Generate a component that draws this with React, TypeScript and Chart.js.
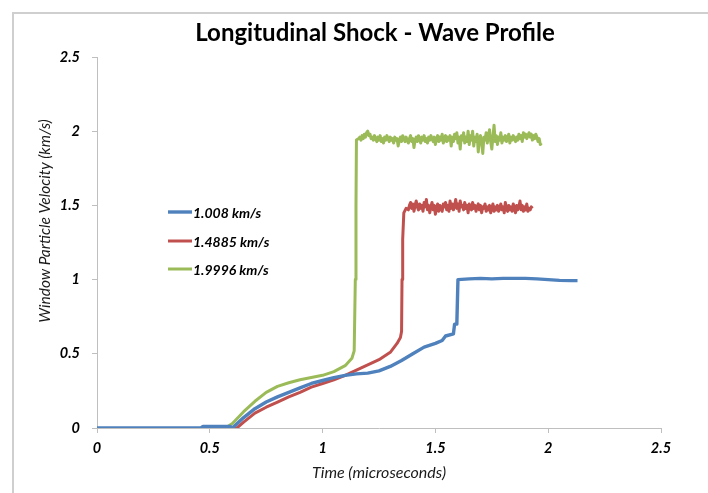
import React, { useEffect, useRef } from "react";
import { Chart, registerables } from "chart.js";

Chart.register(...registerables);

const chartTitle = "Longitudinal Shock - Wave Profile";
const xAxisTitle = "Time (microseconds)";
const yAxisTitle = "Window Particle Velocity (km/s)";
const seriesNames = ["1.008 km/s", "1.4885 km/s", "1.9996 km/s"];
const seriesColors = ["#4F81BD", "#C0504D", "#9BBB59"];
const xTicks = [0, 0.5, 1, 1.5, 2, 2.5];
const yTicks = [0, 0.5, 1, 1.5, 2, 2.5];

// 1.008 km/s
const blueTime = [
  0, 0.46, 0.47, 0.59, 0.6, 0.65, 0.7, 0.75, 0.8, 0.85, 0.9, 0.95, 1.0, 1.05, 1.1,
  1.15, 1.2, 1.25, 1.3, 1.35, 1.4, 1.45, 1.5, 1.53, 1.545, 1.58, 1.585, 1.595,
  1.6, 1.65, 1.7, 1.75, 1.8, 1.85, 1.9, 1.95, 2.0, 2.05, 2.1, 2.13,
];
const blueVel = [
  0, 0, 0.01, 0.01, 0.0, 0.07, 0.13, 0.175, 0.21, 0.24, 0.27, 0.3, 0.32, 0.34, 0.355,
  0.365, 0.37, 0.385, 0.415, 0.455, 0.5, 0.545, 0.57, 0.59, 0.62, 0.635, 0.7, 0.7,
  1.0, 1.005, 1.008, 1.005, 1.008, 1.008, 1.008, 1.005, 1.0, 0.995, 0.993, 0.993,
];

// 1.4885 km/s - rise
const redRiseTime = [
  0.61, 0.62, 0.65, 0.7, 0.75, 0.8, 0.85, 0.9, 0.95, 1.0, 1.05, 1.1, 1.15, 1.2, 1.25,
  1.3, 1.33, 1.345, 1.35, 1.352, 1.355, 1.36, 1.37,
];
const redRiseVel = [
  0, 0.0, 0.04, 0.1, 0.14, 0.175, 0.21, 0.24, 0.275, 0.3, 0.325, 0.355, 0.39, 0.425,
  0.46, 0.51, 0.57, 0.61, 0.65, 1.0, 1.27, 1.45, 1.48,
];
// 1.4885 km/s - plateau, sampled every 0.005 µs from 1.38
const redPlateauStart = 1.38;
const redPlateauStep = 0.005;
const redPlateauVel = [
  1.47, 1.5, 1.52, 1.48, 1.51, 1.46, 1.5, 1.53, 1.49, 1.47,
  1.51, 1.48, 1.5, 1.46, 1.52, 1.49, 1.54, 1.47, 1.5, 1.45,
  1.49, 1.52, 1.47, 1.5, 1.44, 1.48, 1.51, 1.46, 1.5, 1.48,
  1.46, 1.51, 1.49, 1.52, 1.47, 1.5, 1.46, 1.53, 1.48, 1.51,
  1.47, 1.5, 1.54, 1.48, 1.51, 1.46, 1.53, 1.49, 1.5, 1.47,
  1.52, 1.48, 1.5, 1.45, 1.51, 1.49, 1.47, 1.52, 1.48, 1.5,
  1.46, 1.49, 1.51, 1.47, 1.5, 1.45, 1.49, 1.48, 1.51, 1.46,
  1.49, 1.47, 1.5, 1.45, 1.48, 1.51, 1.46, 1.49, 1.47, 1.5,
  1.46, 1.48, 1.51, 1.47, 1.49, 1.45, 1.52, 1.48, 1.46, 1.5,
  1.47, 1.49, 1.46, 1.51, 1.48, 1.45, 1.5, 1.47, 1.49, 1.53,
  1.47, 1.5, 1.46, 1.49, 1.47, 1.51, 1.46, 1.48, 1.47, 1.49,
  1.48,
];

// 1.9996 km/s - rise
const greenRiseTime = [
  0.57, 0.6, 0.65, 0.7, 0.75, 0.8, 0.85, 0.9, 0.95, 1.0, 1.05, 1.1, 1.13, 1.14,
  1.145, 1.148, 1.15,
];
const greenRiseVel = [
  0, 0.03, 0.11, 0.18, 0.24, 0.28, 0.305, 0.325, 0.34, 0.355, 0.38, 0.42, 0.47, 0.52,
  1.0, 1.5, 1.94,
];
// 1.9996 km/s - plateau, sampled every 0.005 µs from 1.16
const greenPlateauStart = 1.16;
const greenPlateauStep = 0.005;
const greenPlateauVel = [
  1.95, 1.96, 1.94, 1.97, 1.95, 1.98, 1.96, 1.99, 2.0, 1.97,
  1.98, 1.95, 1.96, 1.94, 1.97, 1.95, 1.93, 1.96, 1.94, 1.97,
  1.93, 1.95, 1.92, 1.96, 1.94, 1.97, 1.95, 1.93, 1.96, 1.94,
  1.95, 1.92, 1.96, 1.94, 1.95, 1.9, 1.94, 1.96, 1.93, 1.97,
  1.95, 1.93, 1.96, 1.94, 1.92, 1.95, 1.97, 1.93, 1.95, 1.89,
  1.94, 1.96, 1.93, 1.97, 1.95, 1.92, 1.96, 1.94, 1.97, 1.93,
  1.95, 1.92, 1.96, 1.94, 1.97, 1.95, 1.93, 1.96, 1.91, 1.95,
  1.97, 1.93, 1.96, 1.94, 1.98, 1.92, 1.95, 1.97, 1.93, 1.96,
  1.94, 1.97, 1.9, 1.96, 1.93, 1.98, 1.95, 1.99, 1.92, 1.96,
  1.88, 1.97, 1.94, 1.99, 1.92, 1.96, 1.93, 2.0, 1.91, 1.97,
  1.94, 2.0, 1.9, 1.96, 1.93, 1.98, 1.86, 1.95, 1.97, 1.92,
  1.85, 1.96, 1.94, 1.99, 1.92, 1.97, 2.01, 1.93, 1.88, 1.96,
  2.04, 1.93, 1.97, 1.91, 1.96, 1.94, 1.99, 1.92, 1.96, 1.94,
  1.97, 1.93, 1.95, 1.98, 1.92, 1.96, 1.94, 1.97, 1.95, 1.93,
  1.96, 1.94, 1.98, 1.95, 1.97, 1.93, 1.99, 1.96, 1.98, 1.95,
  1.97, 1.99, 1.96, 1.98, 1.94, 1.97, 1.95, 1.98, 1.96, 1.93,
  1.95, 1.91, 1.92,
];

const lineWidths = [3.4, 3, 3];
const FONT = "Lato, 'Open Sans', sans-serif";

function pairs(t: number[], v: number[]) {
  return t.map((x, i) => ({ x, y: v[i] }));
}
function plateau(start: number, step: number, v: number[]) {
  return v.map((y, i) => ({ x: +(start + i * step).toFixed(4), y }));
}

const decorPlugin = {
  id: "decor",
  afterDraw(chart: any) {
    const ctx = chart.ctx as CanvasRenderingContext2D;
    const area = chart.chartArea;
    ctx.save();
    // outer frame
    ctx.strokeStyle = "#cfcfcf";
    ctx.lineWidth = 2;
    ctx.beginPath();
    ctx.moveTo(13, 493);
    ctx.lineTo(13, 13);
    ctx.lineTo(708, 13);
    ctx.stroke();
    // title
    ctx.fillStyle = "#000";
    ctx.font = `bold 24px ${FONT}`;
    ctx.textAlign = "center";
    ctx.textBaseline = "middle";
    ctx.fillText(chartTitle, 375, 33);
    // y axis title
    ctx.save();
    ctx.translate(45, 221);
    ctx.rotate(-Math.PI / 2);
    ctx.font = `italic 15.5px ${FONT}`;
    ctx.fillStyle = "#1a1a1a";
    ctx.fillText(yAxisTitle, 0, 0);
    ctx.restore();
    // legend
    const legX = area.left + 71;
    const rows = [212, 241, 269];
    ctx.font = `bold italic 14px ${FONT}`;
    ctx.textAlign = "left";
    seriesNames.forEach((name, i) => {
      ctx.strokeStyle = seriesColors[i];
      ctx.lineWidth = lineWidths[i];
      ctx.beginPath();
      ctx.moveTo(legX, rows[i]);
      ctx.lineTo(legX + 24, rows[i]);
      ctx.stroke();
      ctx.fillStyle = "#000";
      ctx.fillText(name, legX + 25, rows[i] + 1);
    });
    ctx.restore();
  },
};

export default function App() {
  const ref = useRef<HTMLCanvasElement>(null);
  useEffect(() => {
    if (!ref.current) return;
    const datasets = [
      { data: pairs(blueTime, blueVel) },
      { data: [...pairs(redRiseTime, redRiseVel), ...plateau(redPlateauStart, redPlateauStep, redPlateauVel)] },
      { data: [...pairs(greenRiseTime, greenRiseVel), ...plateau(greenPlateauStart, greenPlateauStep, greenPlateauVel)] },
    ].map((d, i) => ({
      label: seriesNames[i],
      data: d.data,
      borderColor: seriesColors[i],
      backgroundColor: seriesColors[i],
      borderWidth: lineWidths[i],
      pointRadius: 0,
      tension: 0,
      fill: false,
      borderJoinStyle: "round" as const,
    }));
    const tickFont = { family: FONT, size: 14.5, style: "italic", weight: "bold" };
    const chart = new Chart(ref.current, {
      type: "line",
      data: { datasets },
      plugins: [decorPlugin],
      options: {
        animation: false,
        responsive: false,
        layout: { padding: { top: 57, right: 47, bottom: 0, left: 0 } },
        plugins: { legend: { display: false }, title: { display: false }, tooltip: { enabled: false } },
        scales: {
          x: {
            type: "linear",
            min: 0,
            max: 2.5,
            afterBuildTicks: (s: any) => { s.ticks = xTicks.map((v) => ({ value: v })); },
            afterFit: (s: any) => { s.height = 65; },
            grid: { drawOnChartArea: false, drawTicks: true, tickLength: 5, color: "#bfbfbf" },
            border: { color: "#bfbfbf" },
            ticks: { color: "#000", padding: 7, maxRotation: 0, font: tickFont, callback: (v: any) => String(v) },
            title: { display: true, text: xAxisTitle, color: "#1a1a1a", padding: { bottom: 11 }, font: { family: FONT, size: 16, style: "italic" } },
          },
          y: {
            type: "linear",
            min: 0,
            max: 2.5,
            afterBuildTicks: (s: any) => { s.ticks = yTicks.map((v) => ({ value: v })); },
            afterFit: (s: any) => { s.width = 97; },
            grid: { drawOnChartArea: false, drawTicks: true, tickLength: 5, color: "#bfbfbf" },
            border: { color: "#bfbfbf" },
            ticks: { color: "#000", padding: 12, font: tickFont, callback: (v: any) => String(v) },
          },
        },
      },
    } as any);
    return () => chart.destroy();
  }, []);
  return (
    <div style={{ position: "fixed", left: 0, top: 0, width: 708, height: 493, background: "#fff" }}>
      <canvas ref={ref} width={708} height={493} style={{ display: "block", width: 708, height: 493 }} />
    </div>
  );
}
